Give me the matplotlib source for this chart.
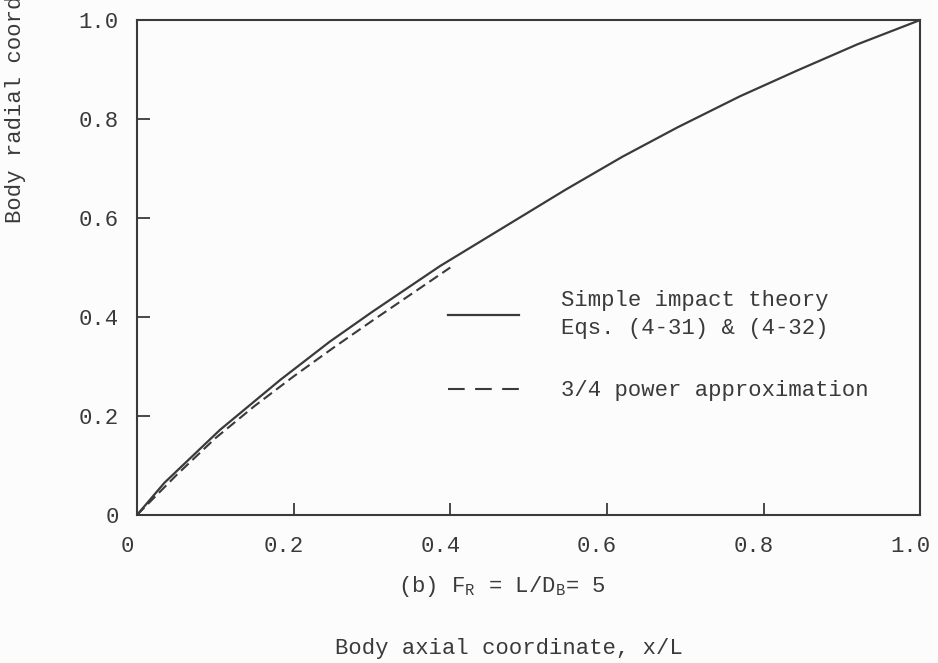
import matplotlib
matplotlib.use('Agg')
import matplotlib.pyplot as plt
import matplotlib.transforms as mtransforms
from matplotlib.lines import Line2D

plt.rcParams['font.family'] = ['Liberation Mono', 'DejaVu Sans Mono']
plt.rcParams['mathtext.fontset'] = 'custom'
plt.rcParams['mathtext.rm'] = 'Liberation Mono'

# curves
x_impact = [0.0, 0.035, 0.106, 0.183, 0.246, 0.30, 0.387, 0.413, 0.547, 0.62, 0.69, 0.77, 0.843, 0.92, 1.0]
r_impact = [0.0, 0.065, 0.172, 0.273, 0.350, 0.410, 0.503, 0.528, 0.657, 0.724, 0.783, 0.846, 0.898, 0.951, 1.0]

x_power = [0.0, 0.05, 0.10, 0.15, 0.20, 0.25, 0.30, 0.35, 0.40]
r_power = [0.0, 0.080, 0.155, 0.220, 0.280, 0.337, 0.392, 0.446, 0.500]

xticks = [0, 0.2, 0.4, 0.6, 0.8, 1.0]
yticks = [0, 0.2, 0.4, 0.6, 0.8, 1.0]
tick_labels = ['0', '0.2', '0.4', '0.6', '0.8', '1.0']

ink = '#3a3a3a'

fig = plt.figure(figsize=(9.38, 6.63), dpi=100, facecolor='#fcfcfc')
ax = fig.add_axes([0.146, 0.2232, 0.835, 0.7466])
ax.set_facecolor('#fcfcfc')

ax.plot(x_impact, r_impact, color=ink, lw=1.6)
ax.plot(x_power, r_power, color=ink, lw=1.5, dashes=(5, 2.5))

ax.set_xlim(0, 1)
ax.set_ylim(0, 1)
ax.set_xticks(xticks)
ax.set_xticklabels(tick_labels)
ax.set_yticks(yticks)
ax.set_yticklabels(tick_labels)
ax.tick_params(direction='in', length=9, width=1.3, colors=ink, labelsize=16)
ax.tick_params(axis='x', pad=15)
ax.tick_params(axis='y', pad=13)
for s in ax.spines.values():
    s.set_color(ink)
    s.set_linewidth(1.5)

# typed labels in the scan sit a little left of their ticks
shift = mtransforms.ScaledTranslation(-10 / 100, 0, fig.dpi_scale_trans)
for lab in ax.get_xticklabels():
    lab.set_transform(lab.get_transform() + shift)

ax.set_ylabel('Body radial coordinate, r/R', fontsize=16, color=ink)
ax.yaxis.set_label_coords(-0.142, 0.954)

ax.text(0.466, -0.145, '(b) F$_\\mathrm{R}$ = L/D$_\\mathrm{B}$= 5', transform=ax.transAxes,
        ha='center', va='center', fontsize=16, color=ink)
ax.text(0.475, -0.269, 'Body axial coordinate, x/L', transform=ax.transAxes,
        ha='center', va='center', fontsize=16, color=ink)

handles = [Line2D([], [], color=ink, lw=1.6),
           Line2D([], [], color=ink, lw=1.5, dashes=(8, 5))]
labels = ['Simple impact theory\nEqs. (4-31) & (4-32)', '3/4 power approximation']
leg = ax.legend(handles, labels, loc='upper left', bbox_to_anchor=(0.371, 0.495),
                frameon=False, fontsize=16, handlelength=3.2, handletextpad=1.9,
                labelspacing=1.85, labelcolor=ink)
for t in leg.get_texts():
    t.set_linespacing(1.45)

fig.savefig('out.png', dpi=100, facecolor=fig.get_facecolor())
